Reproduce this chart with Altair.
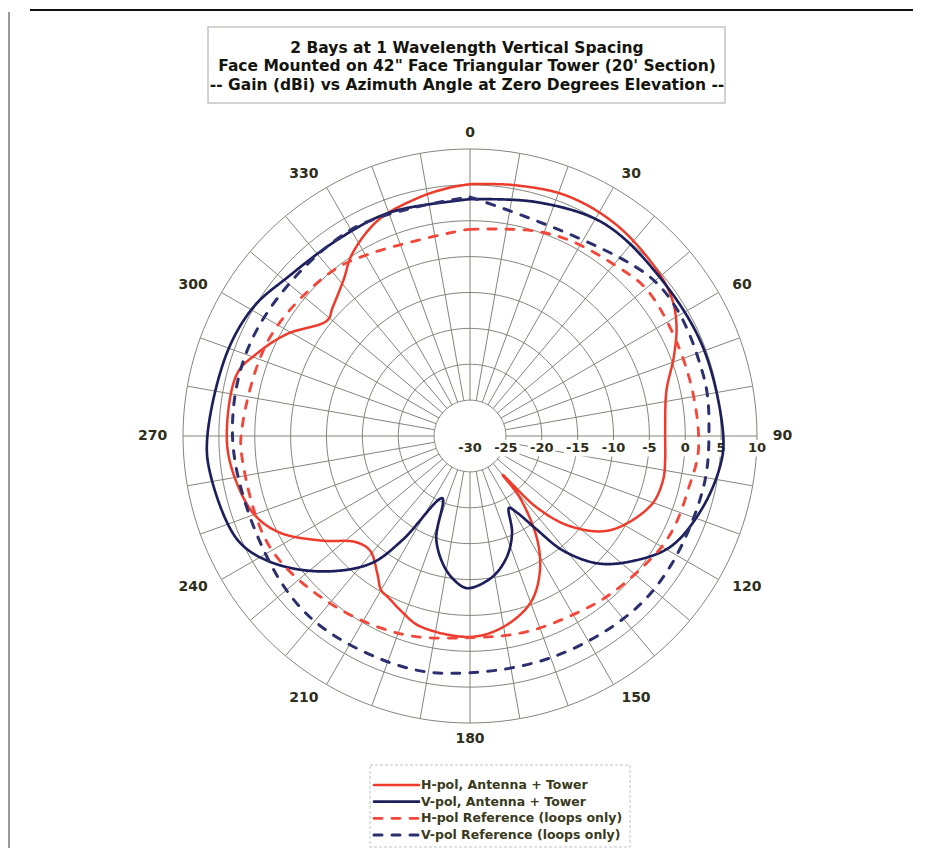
import math
import altair as alt
import pandas as pd

# ---------------- data ----------------
SERIES = ["H-pol, Antenna + Tower", "V-pol, Antenna + Tower",
          "H-pol Reference (loops only)", "V-pol Reference (loops only)"]
COLORS = ["#ee3b2b", "#1d1f5c", "#f2473a", "#2c306e"]
DASHES = [[1, 0], [1, 0], [8, 10], [8, 10]]
WIDTHS = [2.5, 3.0, 3.5, 3.5]

H_ANG = [0, 10, 22, 35, 49, 56, 62, 69, 77, 89, 97, 103, 111, 124, 132, 137, 140,
         141, 147, 153, 160, 170, 180, 195, 201, 207, 210, 214, 221, 227, 235, 243,
         250, 261, 270, 285, 291, 299, 309, 313, 321, 327, 337, 348, 355, 360]
H_GAIN = [5.1, 5.5, 6.1, 5.8, 4.8, 4.0, 2.6, 0.4, -1.9, -2.8, -2.6, -2.4, -3.0, -6.5,
          -11.2, -16.4, -22.9, -19.0, -12.8, -8.6, -5.3, -3.0, -2.0, -2.6, -3.7, -4.8,
          -5.2, -6.9, -8.8, -8.3, -4.6, -0.3, 2.0, 3.4, 3.9, 3.6, 1.9, -0.75, -4.4,
          -3.8, -2.0, 0.2, 2.7, 4.0, 4.7, 5.1]

V_ANG = [0, 16, 32, 49, 69, 90, 97, 108, 119, 128, 135, 141, 144.5, 148.5, 151.5,
         156.5, 163, 171, 180, 183, 190, 198, 204, 213, 218, 228, 238, 246, 262, 270,
         289, 301, 311, 326, 340, 358, 360]
V_GAIN = [3.0, 3.9, 5.0, 4.5, 4.75, 5.3, 5.1, 3.8, 1.9, -1.6, -4.9, -9.5, -14.0, -17.5,
          -18.6, -15.3, -12.4, -10.1, -8.8, -9.0, -11.0, -14.8, -20.5, -12.7, -7.4,
          -1.8, 3.0, 5.5, 6.6, 6.6, 5.8, 5.1, 3.7, 3.0, 3.1, 2.9, 3.0]

HR_ANG = [0, 9, 18, 27, 40, 51, 73, 93, 104, 112, 118, 124, 138, 149, 164, 180, 199,
          220, 241, 264, 272, 296, 319, 331, 358, 360]
HR_GAIN = [-1.2, -0.8, 0.0, 0.6, 1.2, 2.0, 1.6, 1.9, 1.3, 1.2, 1.0, 0.5, -0.5, -1.2,
           -1.6, -1.9, -0.8, 0.4, 1.9, 1.9, 1.8, 1.1, 0.0, -1.0, -1.3, -1.2]

VR_ANG = [0, 50, 75, 90, 103, 123, 138, 159, 180, 196, 220, 240, 270, 296, 330, 360]
VR_GAIN = [3.3, 3.6, 3.6, 3.3, 3.3, 3.3, 3.3, 2.9, 3.0, 3.5, 3.7, 2.9, 3.1, 3.2, 3.2, 3.3]

RINGS = [-25, -20, -15, -10, -5, 0, 5, 10]          # dB grid circles
SPOKES = list(range(0, 360, 10))                   # degrees
RADIAL_LABELS = [-30, -25, -20, -15, -10, -5, 0, 5, 10]
ANGLE_LABELS = list(range(0, 360, 30))
TITLE_LINES = ["2 Bays at 1 Wavelength Vertical Spacing",
               "Face Mounted on 42\" Face Triangular Tower (20' Section)",
               "-- Gain (dBi) vs Azimuth Angle at Zero Degrees Elevation --"]

MIN_DB = -30
MAX_DB = 10

# ---------------- layout ----------------
W, H = 905, 840
CX, CY = 462, 428            # pole position inside the plot area (px)
RPX = 287                    # radius of the outer (10 dB) circle (px)
K = RPX / (MAX_DB - MIN_DB)  # px per dB
xs = alt.Scale(domain=[-CX / K, (W - CX) / K], nice=False, zero=False)
ys = alt.Scale(domain=[-(H - CY) / K, CY / K], nice=False, zero=False)
FONT = "DejaVu Sans"
TXT = "#2e2e1a"
GRID = "#85857a"
LABEL_R = 42.2               # angle-label radius (dB units above MIN_DB)

# ---------------- tables ----------------
rows = []
for s, angs, gains in zip(SERIES, [H_ANG, V_ANG, HR_ANG, VR_ANG],
                          [H_GAIN, V_GAIN, HR_GAIN, VR_GAIN]):
    for i, (a, g) in enumerate(zip(angs, gains)):
        rows.append({"series": s, "i": i, "ang": a, "gain": g})
curves = pd.DataFrame(rows)

ring_rows = []
for rv in RINGS:
    for a in range(0, 361, 2):
        ring_rows.append({"ring": rv, "ang": a})
rings = pd.DataFrame(ring_rows)
spokes = pd.DataFrame({"ang": SPOKES})
rlab = pd.DataFrame({"v": RADIAL_LABELS})
alab = pd.DataFrame({"a": ANGLE_LABELS})
leg = pd.DataFrame({"series": SERIES, "idx": list(range(len(SERIES)))})

X = lambda f: alt.X(f, type="quantitative", scale=xs, axis=None)
Y = lambda f: alt.Y(f, type="quantitative", scale=ys, axis=None)

color_enc = alt.Color("series:N", scale=alt.Scale(domain=SERIES, range=COLORS), legend=None)
dash_enc = alt.StrokeDash("series:N", scale=alt.Scale(domain=SERIES, range=DASHES), legend=None)
width_enc = alt.StrokeWidth("series:N", scale=alt.Scale(domain=SERIES, range=WIDTHS), legend=None)

ring_layer = alt.Chart(rings).transform_calculate(
    r=f"datum.ring - ({MIN_DB})",
).transform_calculate(
    x="datum.r * sin(datum.ang * PI / 180)",
    y="datum.r * cos(datum.ang * PI / 180)",
).mark_line(color=GRID, strokeWidth=1).encode(
    x=X("x"), y=Y("y"), detail="ring:N", order="ang:Q")

spoke_layer = alt.Chart(spokes).transform_calculate(
    r1=f"{RINGS[0] - MIN_DB}", r2=f"{MAX_DB - MIN_DB}"
).transform_calculate(
    x="datum.r1 * sin(datum.ang * PI / 180)",
    y="datum.r1 * cos(datum.ang * PI / 180)",
    x2="datum.r2 * sin(datum.ang * PI / 180)",
    y2="datum.r2 * cos(datum.ang * PI / 180)",
).mark_rule(color=GRID, strokeWidth=1).encode(
    x=X("x"), y=Y("y"), x2="x2:Q", y2="y2:Q")

rlab_bg = alt.Chart(rlab).transform_calculate(
    r=f"datum.v - ({MIN_DB})"
).transform_calculate(
    xa="datum.r - 1.9", xb="datum.r + 1.9", ya="-0.55", yb="-2.85"
).mark_rect(color="white").encode(x=X("xa"), x2="xb:Q", y=Y("ya"), y2="yb:Q")

rlab_txt = alt.Chart(rlab).transform_calculate(
    r=f"datum.v - ({MIN_DB})", y0="0"
).mark_text(font=FONT, fontWeight="bold", fontSize=13, color=TXT, dy=12,
            align="center", baseline="middle").encode(
    x=X("r"), y=Y("y0"), text="v:N")


def angle_labels(flt, align):
    return alt.Chart(alab).transform_calculate(
        s="sin(datum.a * PI / 180)", c="cos(datum.a * PI / 180)"
    ).transform_filter(flt).transform_calculate(
        x=f"{LABEL_R} * datum.s", y=f"{LABEL_R} * datum.c",
    ).mark_text(font=FONT, fontWeight="bold", fontSize=14, color=TXT,
                align=align, baseline="middle").encode(
        x=X("x"), y=Y("y"), text="a:N")


alab_right = angle_labels("datum.s > 0.01", "left")
alab_left = angle_labels("datum.s < -0.01", "right")
alab_mid = angle_labels("abs(datum.s) <= 0.01", "center")

curve_layer = alt.Chart(curves).transform_calculate(
    r=f"max(datum.gain - ({MIN_DB}), 0)"
).transform_calculate(
    x="datum.r * sin(datum.ang * PI / 180)",
    y="datum.r * cos(datum.ang * PI / 180)",
).mark_line(interpolate="catmull-rom", strokeCap="round", strokeJoin="round").encode(
    x=X("x"), y=Y("y"), order="i:Q",
    color=color_enc, strokeDash=dash_enc, strokeWidth=width_enc,
)

one = pd.DataFrame({"k": [0]})

# legend (built from the series list)
leg_y = alt.Y("idx:Q", scale=alt.Scale(domain=[0, 3], range=[777, 827]), axis=None)
leg_box = alt.Chart(one).mark_rect(fill="white", stroke="#bcc8c8", strokeWidth=1,
                                   strokeDash=[3, 2]).encode(
    x=alt.value(362), x2=alt.value(622), y=alt.value(757), y2=alt.value(839))
leg_lines = alt.Chart(leg).mark_rule(strokeCap="round").encode(
    x=alt.value(366), x2=alt.value(411), y=leg_y,
    color=color_enc, strokeDash=dash_enc,
    strokeWidth=alt.StrokeWidth("series:N", scale=alt.Scale(domain=SERIES, range=[3.5, 3.5, 3.5, 3.5]), legend=None))
leg_text = alt.Chart(leg).mark_text(font=FONT, fontWeight="bold", fontSize=12.5,
                                    color="#3a3a1c", align="left", baseline="middle").encode(
    x=alt.value(413), y=leg_y, text="series:N")

title_box = alt.Chart(one).mark_rect(fill="white", stroke="#c4c4c0", strokeWidth=1.5).encode(
    x=alt.value(200), x2=alt.value(717), y=alt.value(19), y2=alt.value(95))
title_txt = alt.Chart(one).mark_text(
    text=TITLE_LINES, font=FONT, fontWeight="bold", fontSize=15.5, color="#151510",
    lineHeight=18.5, align="center", baseline="middle").encode(
    x=alt.value(459), y=alt.value(39.5))

frame_top = alt.Chart(one).mark_rule(color="#111111", strokeWidth=2).encode(
    x=alt.value(22), x2=alt.value(905), y=alt.value(2))
frame_left = alt.Chart(one).mark_rule(color="#777777", strokeWidth=1.5).encode(
    x=alt.value(1), y=alt.value(4), y2=alt.value(840))

chart = alt.layer(
    frame_top, frame_left, ring_layer, spoke_layer, rlab_bg, rlab_txt,
    alab_right, alab_left, alab_mid,
    curve_layer, title_box, title_txt, leg_box, leg_lines, leg_text
).resolve_scale(y="independent").properties(
    width=W, height=H, padding=0, autosize=alt.AutoSizeParams(type="none"),
    background="white"
).configure_view(stroke=None)

chart.save("out.html", embed_options={"renderer": "svg", "actions": False})
